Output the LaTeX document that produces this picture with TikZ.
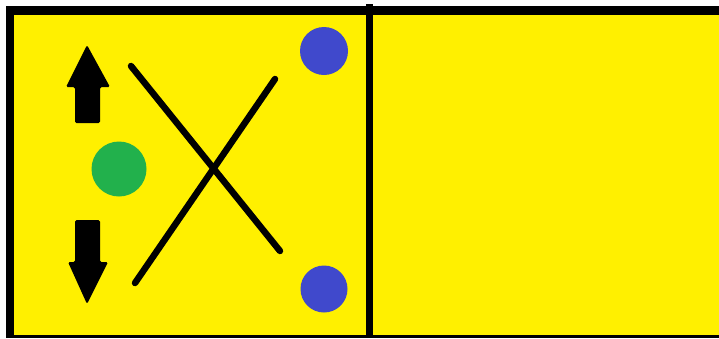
\documentclass[tikz,border=0pt]{standalone}
\definecolor{bgyellow}{RGB}{255,240,0}
\definecolor{dotblue}{RGB}{64,73,204}
\definecolor{dotgreen}{RGB}{34,177,76}
\tikzset{
  dot/.style={circle, inner sep=0pt, minimum size=#1, draw=none},
  stroke/.style={line width=6.5pt, line cap=round, black},
  arrowshape/.style={fill=black, rounded corners=1.5pt}
}
\begin{document}
\begin{tikzpicture}[x=1pt,y=-1pt]
\useasboundingbox (0,0) rectangle (719,338);
\fill[white] (0,0) rectangle (719,338);
\fill[black] (6,6) rectangle (719,338);
\fill[bgyellow] (14,15) rectangle (719,335);
\fill[black] (366,4) rectangle (373,338);
% arrows
\fill[arrowshape] (87,45) -- (110,87) -- (100,87) -- (100,123) -- (75,123) -- (75,87) -- (66,87) -- cycle;
\fill[arrowshape] (75,220) -- (100,220) -- (100,262) -- (108,262) -- (87,304) -- (68,262) -- (75,262) -- cycle;
% circles
\node[dot=48pt, fill=dotblue] (b1) at (324,51) {};
\node[dot=47pt, fill=dotblue] (b2) at (324,289) {};
\node[dot=55pt, fill=dotgreen] (g) at (119,169) {};
% cross
\coordinate (l1a) at (131,66);
\coordinate (l1b) at (280,251);
\coordinate (l2a) at (275,79);
\coordinate (l2b) at (135,283);
\draw[stroke] (l1a) -- (l1b);
\draw[stroke] (l2a) -- (l2b);
\end{tikzpicture}
\end{document}
